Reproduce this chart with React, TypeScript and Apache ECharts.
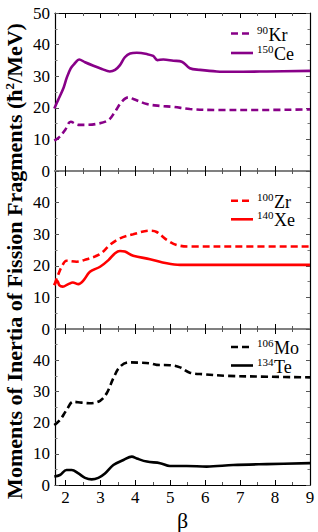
import React, { useEffect, useRef } from "react";
import * as echarts from "echarts";

// β tick positions
const betaTicks = [2, 3, 4, 5, 6, 7, 8, 9];
const betaMinorTicks = [2.5, 3.5, 4.5, 5.5, 6.5, 7.5, 8.5];

// Panel 1 (purple)
const kr90: number[][] = [
  [1.68, 9.6], [1.84, 10.9], [1.99, 13.0], [2.15, 15.6], [2.37, 14.6], [2.56, 14.6],
  [2.89, 14.9], [3.23, 16.1], [3.42, 18.8], [3.61, 21.9], [3.8, 23.3], [3.94, 22.8],
  [4.33, 21.2], [4.71, 20.6], [5.09, 20.3], [5.56, 19.6], [6.33, 19.3], [7.5, 19.3], [9.0, 19.5],
];
const ce150: number[][] = [
  [1.68, 19.8], [1.79, 22.5], [1.94, 26.2], [2.03, 29.3], [2.15, 32.5], [2.27, 34.1],
  [2.39, 35.3], [2.56, 34.4], [2.8, 33.3], [3.04, 32.3], [3.27, 31.5], [3.42, 32.0],
  [3.56, 33.5], [3.7, 36.0], [3.85, 37.2], [4.04, 37.4], [4.33, 37.0], [4.51, 36.4],
  [4.63, 35.1], [4.8, 35.3], [5.09, 34.9], [5.33, 34.6], [5.56, 32.5], [5.85, 32.0],
  [6.33, 31.5], [6.8, 31.4], [7.76, 31.5], [9.0, 31.7],
];

// Panel 2 (red)
const zr100: number[][] = [
  [1.68, 13.9], [1.77, 16.6], [1.89, 19.7], [2.03, 21.6], [2.32, 21.3], [2.61, 22.1],
  [2.99, 23.7], [3.27, 26.6], [3.56, 28.7], [3.94, 30.0], [4.42, 31.1], [4.61, 30.7],
  [4.9, 28.2], [5.18, 26.6], [5.56, 26.1], [7.0, 26.1], [9.0, 26.1],
];
const xe140: number[][] = [
  [1.68, 13.9], [1.77, 15.2], [1.82, 13.9], [1.92, 13.4], [2.08, 14.2], [2.21, 14.7],
  [2.37, 14.2], [2.51, 15.3], [2.7, 18.1], [2.99, 19.7], [3.23, 21.8], [3.42, 24.0],
  [3.56, 24.7], [3.7, 24.5], [3.94, 23.2], [4.42, 22.1], [4.9, 20.8], [5.28, 20.3],
  [5.85, 20.3], [7.0, 20.3], [9.0, 20.3],
];

// Panel 3 (black)
const mo106: number[][] = [
  [1.68, 19.2], [1.84, 20.8], [2.03, 24.0], [2.22, 26.7], [2.46, 26.4], [2.7, 26.2],
  [2.99, 27.0], [3.18, 29.4], [3.37, 34.2], [3.56, 37.9], [3.81, 39.3], [4.13, 39.2],
  [4.42, 39.0], [4.61, 38.5], [4.99, 38.4], [5.28, 37.7], [5.56, 36.0], [5.95, 35.5],
  [6.62, 35.0], [7.8, 34.7], [9.0, 34.5],
];
const te134: number[][] = [
  [1.68, 2.7], [1.84, 3.2], [2.03, 4.8], [2.18, 4.8], [2.37, 3.7], [2.56, 2.3],
  [2.75, 1.8], [2.94, 2.3], [3.13, 3.7], [3.37, 6.4], [3.66, 8.0], [3.9, 9.1],
  [4.04, 8.5], [4.33, 7.5], [4.71, 7.0], [4.99, 6.1], [5.47, 6.1], [6.04, 5.9],
  [6.8, 6.4], [7.76, 6.7], [9.0, 7.0],
];

// Legend labels (mass number, element)
const panelLegends = [
  { dashed: ["90", "Kr"], solid: ["150", "Ce"] },
  { dashed: ["100", "Zr"], solid: ["140", "Xe"] },
  { dashed: ["106", "Mo"], solid: ["134", "Te"] },
];

const FONT = "Liberation Serif, serif";
const PURPLE = "#880088";
const RED = "#ff0000";
const BLACK = "#000000";

const grids = [
  { top: 13, height: 158 },
  { top: 171, height: 158 },
  { top: 329, height: 156 },
];

export default function App() {
  const ref = useRef<HTMLDivElement>(null);
  useEffect(() => {
    if (!ref.current) return;
    const chart = echarts.init(ref.current, undefined, { renderer: "svg" });

    const xAxis: any[] = [];
    const yAxis: any[] = [];
    grids.forEach((_, g) => {
      const bottomColor = g === 2 ? "#000" : "#808080";
      const bottomWidth = g === 2 ? 1.2 : 2;
      const topColor = g === 0 ? "#000" : "#808080";
      const base = { type: "value", gridIndex: g, min: 1.7, max: 9, splitLine: { show: false } };
      xAxis.push({
        ...base,
        position: "bottom",
        axisLine: { show: true, onZero: false, lineStyle: { color: bottomColor, width: bottomWidth } },
        axisTick: { show: true, inside: true, length: 5, customValues: betaTicks, lineStyle: { color: "#000", width: 1 } },
        axisLabel: {
          show: g === 2, customValues: betaTicks, color: "#000", fontFamily: FONT, fontSize: 17, margin: 4,
        },
        name: g === 2 ? "β" : "",
        nameLocation: "middle",
        nameGap: 24,
        nameTextStyle: { fontFamily: FONT, fontSize: 22, color: "#000" },
      });
      xAxis.push({
        ...base,
        position: "bottom",
        axisLine: { show: false, onZero: false },
        axisTick: { show: true, inside: true, length: 3, customValues: betaMinorTicks, lineStyle: { color: "#555", width: 1 } },
        axisLabel: { show: false },
      });
      xAxis.push({
        ...base,
        position: "top",
        axisLine: { show: true, onZero: false, lineStyle: { color: topColor, width: g === 0 ? 1.2 : 2 } },
        axisTick: { show: true, inside: true, length: 5, customValues: betaTicks, lineStyle: { color: "#000", width: 1 } },
        axisLabel: { show: false },
      });
      xAxis.push({
        ...base,
        position: "top",
        axisLine: { show: false, onZero: false },
        axisTick: { show: true, inside: true, length: 3, customValues: betaMinorTicks, lineStyle: { color: "#555", width: 1 } },
        axisLabel: { show: false },
      });
      const ybase = {
        type: "value", gridIndex: g, min: 0, max: 50, interval: 10, splitLine: { show: false },
      };
      yAxis.push({
        ...ybase,
        position: "left",
        axisLine: { show: true, onZero: false, lineStyle: { color: "#000", width: 1.2 } },
        axisTick: { show: true, inside: true, length: 4, lineStyle: { color: "#555" } },
        minorTick: { show: true, splitNumber: 2, length: 2.5, lineStyle: { color: "#777" } },
        axisLabel: {
          color: "#000", fontFamily: FONT, fontSize: 17, margin: 5,
          showMaxLabel: g === 0,
        },
      });
      yAxis.push({
        ...ybase,
        position: "right",
        axisLine: { show: true, onZero: false, lineStyle: { color: "#000", width: 1.2 } },
        axisTick: { show: true, inside: true, length: 4, lineStyle: { color: "#555" } },
        minorTick: { show: true, splitNumber: 2, length: 2.5, lineStyle: { color: "#777" } },
        axisLabel: { show: false },
      });
    });

    const mk = (name: string, data: number[][], g: number, color: string, dashed: boolean) => ({
      name,
      type: "line",
      xAxisIndex: g * 4,
      yAxisIndex: g * 2,
      data,
      smooth: 0.35,
      showSymbol: false,
      lineStyle: { color, width: 2.6, type: dashed ? [7, 4] : "solid" },
      z: 5,
    });

    const series = [
      mk("90Kr", kr90, 0, PURPLE, true),
      mk("150Ce", ce150, 0, PURPLE, false),
      mk("100Zr", zr100, 1, RED, true),
      mk("140Xe", xe140, 1, RED, false),
      mk("106Mo", mo106, 2, BLACK, true),
      mk("134Te", te134, 2, BLACK, false),
    ];

    const colors = [PURPLE, RED, BLACK];
    const rows = [
      [33.5, 53],
      [200.7, 219.3],
      [347, 365.5],
    ];
    const SUP = 11;
    const EL = 18;
    const graphic: any[] = [];
    const legendText = (pair: string[], y: number) => {
      const supW = pair[0].length * SUP * 0.5;
      graphic.push({
        type: "text",
        x: 257,
        y: y - 4,
        style: { text: pair[0], fontFamily: FONT, fontSize: SUP, fill: "#000", verticalAlign: "middle", align: "left" },
      });
      graphic.push({
        type: "text",
        x: 257 + supW + 0.5,
        y: y + 1,
        style: { text: pair[1], fontFamily: FONT, fontSize: EL, fill: "#000", verticalAlign: "middle", align: "left" },
      });
    };
    panelLegends.forEach((pl, g) => {
      const [y1, y2] = rows[g];
      graphic.push({
        type: "line",
        shape: { x1: 231, y1, x2: 253, y2: y1 },
        style: { stroke: colors[g], lineWidth: 2.6, lineDash: [7, 4] },
      });
      graphic.push({
        type: "line",
        shape: { x1: 231, y1: y2, x2: 253, y2 },
        style: { stroke: colors[g], lineWidth: 2.6 },
      });
      legendText(pl.dashed, y1);
      legendText(pl.solid, y2);
    });
    graphic.push({
      type: "text",
      x: 14,
      y: 261,
      rotation: Math.PI / 2,
      style: {
        text: "{t|Moments of Inertia of Fission Fragments (ħ}{s|2}{t|/MeV)}",
        rich: {
          t: { fontFamily: FONT, fontSize: 22, fontWeight: "bold", fill: "#000", lineHeight: 22 },
          s: { fontFamily: FONT, fontSize: 13, fontWeight: "bold", fill: "#000", verticalAlign: "top", lineHeight: 18 },
        },
        align: "center",
        verticalAlign: "middle",
      },
    });

    chart.setOption({
      animation: false,
      backgroundColor: "#fff",
      textStyle: { fontFamily: FONT },
      grid: grids.map((gr) => ({ left: 55, right: 8, top: gr.top, height: gr.height })),
      xAxis,
      yAxis,
      series,
      graphic,
    });
    return () => chart.dispose();
  }, []);
  return (
    <div
      ref={ref}
      style={{ position: "fixed", left: 0, top: 0, width: 318, height: 532 }}
    />
  );
}
